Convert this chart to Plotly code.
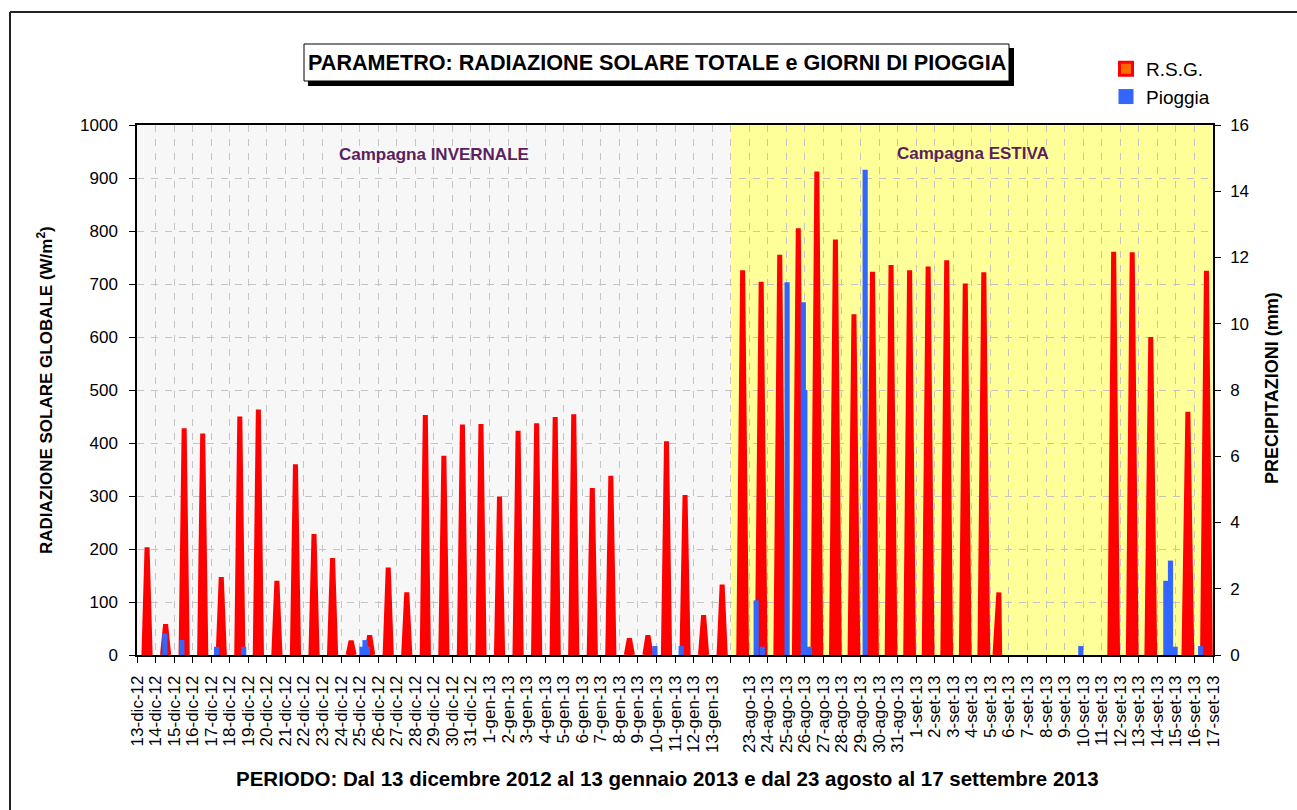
import plotly.graph_objects as go

# ---------------- DATA ----------------
winter_days = ["13-dic-12", "14-dic-12", "15-dic-12", "16-dic-12", "17-dic-12", "18-dic-12",
               "19-dic-12", "20-dic-12", "21-dic-12", "22-dic-12", "23-dic-12", "24-dic-12",
               "25-dic-12", "26-dic-12", "27-dic-12", "28-dic-12", "29-dic-12", "30-dic-12",
               "31-dic-12", "1-gen-13", "2-gen-13", "3-gen-13", "4-gen-13", "5-gen-13",
               "6-gen-13", "7-gen-13", "8-gen-13", "9-gen-13", "10-gen-13", "11-gen-13",
               "12-gen-13", "13-gen-13"]
summer_days = ["23-ago-13", "24-ago-13", "25-ago-13", "26-ago-13", "27-ago-13", "28-ago-13",
               "29-ago-13", "30-ago-13", "31-ago-13", "1-set-13", "2-set-13", "3-set-13",
               "4-set-13", "5-set-13", "6-set-13", "7-set-13", "8-set-13", "9-set-13",
               "10-set-13", "11-set-13", "12-set-13", "13-set-13", "14-set-13", "15-set-13",
               "16-set-13", "17-set-13"]

# daily maximum of hourly global solar radiation (W/m2)
winter_rsg_peak = [203, 58, 428, 418, 147, 450, 463, 140, 360, 228, 183, 27, 37, 165, 118, 453,
                   376, 435, 436, 299, 423, 437, 449, 454, 315, 338, 31, 37, 403, 302, 75, 133]
summer_rsg_peak = [726, 704, 755, 805, 912, 784, 643, 723, 736, 726, 733, 745, 701, 722, 118,
                   None, None, None, None, None, 761, 760, 600, None, 459, 725]

# hourly rain records (day, hour, mm)
rain_day = ["14-dic-12", "15-dic-12", "17-dic-12", "18-dic-12", "25-dic-12", "25-dic-12",
            "25-dic-12", "9-gen-13", "11-gen-13", "24-ago-13", "24-ago-13", "25-ago-13",
            "26-ago-13", "26-ago-13", "27-ago-13", "30-ago-13", "10-set-13", "15-set-13",
            "15-set-13", "15-set-13", "17-set-13"]
rain_hour = [12, 10, 7, 18, 3, 7, 10, 22, 8, 7, 15, 23, 20, 22, 4, 4, 19, 9, 15, 21, 6]
rain_mm = [0.65, 0.45, 0.25, 0.25, 0.25, 0.45, 0.25, 0.27, 0.27, 1.65, 0.25, 11.25, 10.65,
           8.0, 0.25, 14.65, 0.27, 2.24, 2.85, 0.25, 0.27]

# ---------------- TIME AXIS (in days, hourly rows as in the source sheet) ----------------
N_W = len(winter_days)
GAP_H = 2  # empty hourly rows between the two campaigns


def t_of(day, hour):
    if day in winter_days:
        return winter_days.index(day) + hour / 24.0
    j = summer_days.index(day)
    return N_W + (GAP_H + 24 * j + hour) / 24.0


tick_vals = list(range(N_W)) + [N_W + 1 + k for k in range(len(summer_days))]
tick_text = winter_days + summer_days
x_end = N_W + len(summer_days)

# red spikes (one per day)
rx, ry = [], []
for d, p in zip(winter_days, winter_rsg_peak):
    if p is None:
        continue
    rx += [t_of(d, 13 - 4), t_of(d, 13), t_of(d, 13 + 4), None]
    ry += [0, p, 0, None]
partial = {"6-set-13": (9, 1)}
for d, p in zip(summer_days, summer_rsg_peak):
    if p is None:
        continue
    ph, rh = partial.get(d, (13.5, 5))
    rx += [t_of(d, ph - 5), t_of(d, ph), t_of(d, ph + rh), None]
    ry += [0, p, 0, None]

bx = [t_of(d, h) for d, h in zip(rain_day, rain_hour)]

# ---------------- FIGURE ----------------
FONT = "Arial, 'Liberation Sans', sans-serif"
L, R, T, B = 137, 1213, 125, 655


def px(x):
    return (x - L) / (R - L)


def py(y):
    return (B - y) / (B - T)


fig = go.Figure()
fig.add_trace(go.Scatter(x=rx, y=ry, mode="lines", fill="toself", fillcolor="#ff0000",
                         line=dict(color="#ff0000", width=5), showlegend=False,
                         hoverinfo="skip"))
fig.add_trace(go.Bar(x=bx, y=rain_mm, width=0.28, marker=dict(color="#3366ff", line=dict(width=0)),
                     yaxis="y2", showlegend=False))
# legend entries
fig.add_trace(go.Scatter(x=[None], y=[None], mode="markers", name="R.S.G.",
                         marker=dict(symbol="square", size=13, color="#ff6a00",
                                     line=dict(color="#ff0000", width=3))))
fig.add_trace(go.Scatter(x=[None], y=[None], mode="markers", name="Pioggia",
                         marker=dict(symbol="square", size=15, color="#3366ff")))

grid = dict(showgrid=True, gridcolor="#c4c4c4", griddash="7px,7px", gridwidth=1)

fig.update_layout(
    width=1297, height=810,
    margin=dict(l=L, r=1297 - R, t=T, b=810 - B, pad=0),
    paper_bgcolor="white", plot_bgcolor="rgba(0,0,0,0)",
    font=dict(family=FONT, size=17, color="black"),
    barmode="overlay",
    legend=dict(x=px(1106), y=py(50), xanchor="left", yanchor="top",
                font=dict(size=19, family=FONT), bgcolor="rgba(0,0,0,0)"),
    xaxis=dict(range=[0, x_end], tickmode="array", tickvals=tick_vals, ticktext=tick_text,
               tickangle=-90, ticks="outside", ticklen=6, tickcolor="black",
               showline=True, linecolor="black", linewidth=1.5, mirror=True,
               zeroline=False, ticklabelstandoff=6,
               minor=dict(tickmode="array", tickvals=[N_W], ticks="outside", ticklen=6,
                          tickcolor="black", showgrid=True, gridcolor="#c4c4c4",
                          griddash="7px,7px", gridwidth=1),
               **grid),
    yaxis=dict(range=[0, 1000], dtick=100, ticks="outside", ticklen=6, tickcolor="black",
               showline=True, linecolor="black", linewidth=1.5, mirror=True,
               zeroline=False, ticklabelstandoff=8, **grid),
    yaxis2=dict(range=[0, 16], dtick=2, overlaying="y", side="right", ticks="outside",
                ticklen=6, tickcolor="black", showgrid=False, zeroline=False,
                showline=True, linecolor="black", linewidth=1.5, ticklabelstandoff=6),
)

shapes = [
    dict(type="rect", xref="x", yref="paper", x0=0, x1=N_W, y0=0, y1=1,
         fillcolor="#f7f7f7", line=dict(width=0), layer="below"),
    dict(type="rect", xref="x", yref="paper", x0=N_W, x1=x_end, y0=0, y1=1,
         fillcolor="#ffff99", line=dict(width=0), layer="below"),
    # title box with shadow
    dict(type="rect", xref="paper", yref="paper", x0=px(308), x1=px(1014), y0=py(86), y1=py(48),
         fillcolor="black", line=dict(width=0)),
    dict(type="rect", xref="paper", yref="paper", x0=px(304), x1=px(1009), y0=py(81), y1=py(44),
         fillcolor="white", line=dict(color="black", width=1)),
    # outer frame
    dict(type="line", xref="paper", yref="paper", x0=px(10), x1=px(1310), y0=py(12), y1=py(12),
         line=dict(color="#222222", width=2)),
    dict(type="line", xref="paper", yref="paper", x0=px(10), x1=px(10), y0=py(12), y1=py(820),
         line=dict(color="#222222", width=2)),
]
fig.update_layout(shapes=shapes)

ann = [
    dict(text="<b>PARAMETRO: RADIAZIONE SOLARE TOTALE e GIORNI DI PIOGGIA</b>",
         x=px(657), y=py(62.5), font=dict(size=21.6)),
    dict(text="<b>Campagna INVERNALE</b>", x=px(434), y=py(154),
         font=dict(size=17, color="#5c1f5c")),
    dict(text="<b>Campagna ESTIVA</b>", x=px(973), y=py(153),
         font=dict(size=17, color="#5c1f5c")),
    dict(text="<b>RADIAZIONE SOLARE GLOBALE (W/m<sup>2</sup>)</b>", x=px(45), y=py(390),
         textangle=-90, font=dict(size=17)),
    dict(text="<b>PRECIPITAZIONI (mm)</b>", x=px(1272), y=py(388), textangle=-90,
         font=dict(size=18)),
    dict(text="<b>PERIODO: Dal 13 dicembre 2012 al 13 gennaio 2013 e dal 23 agosto al 17 settembre 2013</b>",
         x=px(667), y=py(778), font=dict(size=20.5)),
]
for a in ann:
    a.update(xref="paper", yref="paper", showarrow=False, xanchor="center", yanchor="middle")
fig.update_layout(annotations=ann)

fig.write_html("out.html", config={"displayModeBar": False},
               post_script="document.body.style.margin='0';")
